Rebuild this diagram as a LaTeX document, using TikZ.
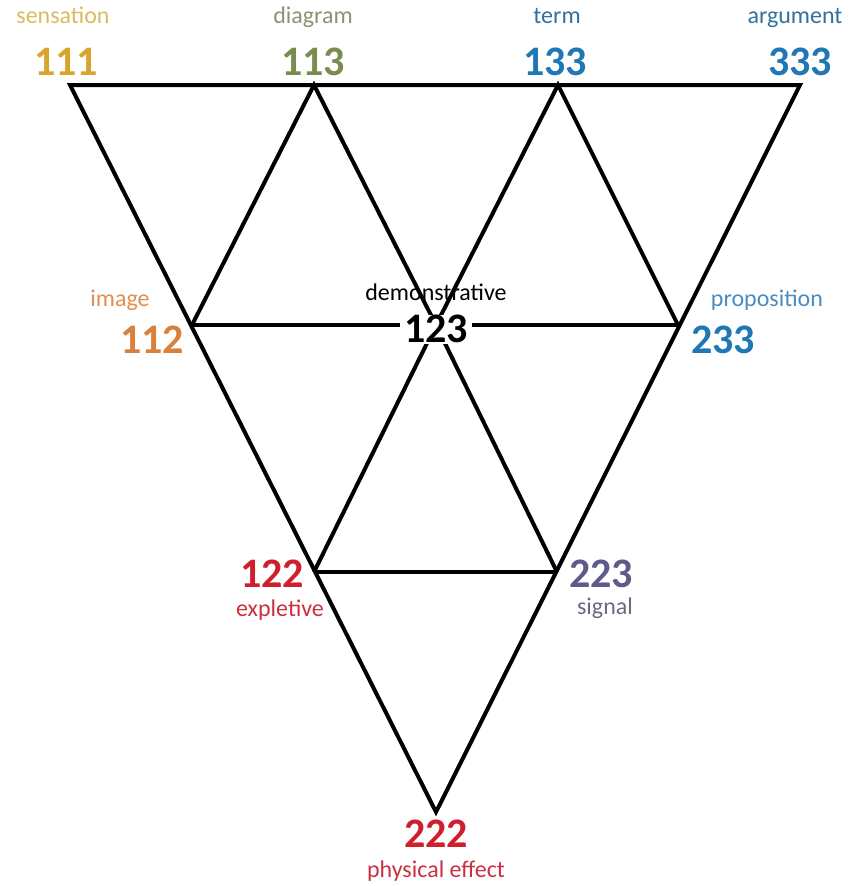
\documentclass[tikz,border=0pt]{standalone}
\usepackage{fontspec}
\setmainfont{Carlito}
\usepackage{xcolor}
\usetikzlibrary{positioning}

\definecolor{goldnum}{HTML}{D8A52C}
\definecolor{goldtxt}{HTML}{D9BC62}
\definecolor{olivenum}{HTML}{7B8C4F}
\definecolor{olivetxt}{HTML}{8B9372}
\definecolor{bluenum}{HTML}{1F78B4}
\definecolor{bluetxt}{HTML}{33709E}
\definecolor{lightblue}{HTML}{4A8CC0}
\definecolor{orangenum}{HTML}{D9813A}
\definecolor{orangetxt}{HTML}{E09050}
\definecolor{rednum}{HTML}{CF1F2E}
\definecolor{redtxt}{HTML}{CC3040}
\definecolor{purplenum}{HTML}{5E5A8A}
\definecolor{purpletxt}{HTML}{6A6A80}

\begin{document}
\begin{tikzpicture}[x=1pt,y=-1pt,line width=4pt,
  num/.style={font=\fontsize{42}{42}\selectfont\bfseries,inner sep=1pt,
              text height=27pt,text depth=0pt},
  word/.style={font=\fontsize{24}{24}\selectfont,inner sep=1pt,
               text height=16pt,text depth=5pt}]
  \useasboundingbox (0,0) rectangle (863,886);

  % vertices of the grid
  \coordinate (v111) at (70,85);
  \coordinate (v113) at (314,85);
  \coordinate (v133) at (558,85);
  \coordinate (v333) at (800,85);
  \coordinate (v112) at (192,325);
  \coordinate (v123) at (436,325);
  \coordinate (v233) at (678,325);
  \coordinate (v122) at (314,572);
  \coordinate (v223) at (557,572);
  \coordinate (v222) at (436,812);

  \draw[line join=miter] (v111) -- (v333) -- (v222) -- cycle;
  \draw (v112) -- (v113) -- (v123) -- (v223);
  \draw (v233) -- (v133) -- (v123) -- (v122);
  \draw (v112) -- (v123) -- (v233);
  \draw (v122) -- (v223);

  % numbers
  \node[num,goldnum]   (n111) at (66,62)  {111};
  \node[num,olivenum]  (n113) at (313,62) {113};
  \node[num,bluenum]   (n133) at (555,62) {133};
  \node[num,bluenum]   (n333) at (800,62) {333};
  \node[num,orangenum] (n112) at (152,340) {112};
  \node[num,fill=white,inner xsep=4pt] (n123) at (436,329) {123};
  \node[num,bluenum]   (n233) at (723,340) {233};
  \node[num,rednum]    (n122) at (272,574) {122};
  \node[num,purplenum] (n223) at (601,574) {223};
  \node[num,rednum]    (n222) at (436,834) {222};

  % names
  \node[word,goldtxt]   (l111) at (63,18)   {sensation};
  \node[word,olivetxt]  (l113) at (313,18)  {diagram};
  \node[word,bluetxt]   (l133) at (557,18)  {term};
  \node[word,bluetxt]   (l333) at (795,18)  {argument};
  \node[word,orangetxt] (l112) at (120,301) {image};
  \node[word]           (l123) at (436,295) {demonstrative};
  \node[word,lightblue] (l233) at (767,301) {proposition};
  \node[word,redtxt]    (l122) at (280,611) {expletive};
  \node[word,purpletxt] (l223) at (605,609) {signal};
  \node[word,redtxt]    (l222) at (436,872) {physical effect};
\end{tikzpicture}
\end{document}
